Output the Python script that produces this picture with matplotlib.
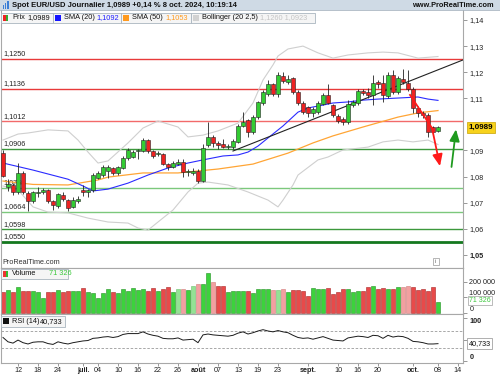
import matplotlib
matplotlib.use("Agg")
import matplotlib.pyplot as plt
from matplotlib.patches import Rectangle

plt.rcParams['font.family'] = ['Liberation Sans', 'DejaVu Sans']

W, H = 500, 375

# bougies journalieres EUR/USD, 7 juin -> 8 oct. 2024
opens = [1.0889, 1.0762, 1.0768, 1.0740, 1.0812, 1.0738, 1.0705, 1.0738, 1.0742, 1.0748,
         1.0708, 1.0686, 1.0730, 1.0712, 1.0682, 1.0708, 1.0748, 1.0740, 1.0748, 1.0796,
         1.0808, 1.0822, 1.0833, 1.0814, 1.0833, 1.0871, 1.0877, 1.0897, 1.0898, 1.0940,
         1.0898, 1.0888, 1.0886, 1.0848, 1.0837, 1.0850, 1.0856, 1.0818, 1.0815, 1.0822,
         1.0783, 1.0921, 1.0952, 1.0929, 1.0925, 1.0915, 1.0913, 1.0933, 1.0994, 1.1017,
         1.0971, 1.1028, 1.1082, 1.1116, 1.1155, 1.1116, 1.1185, 1.1163, 1.1178, 1.1124,
         1.1082, 1.1067, 1.1044, 1.1047, 1.1079, 1.1113, 1.1074, 1.1032, 1.1020, 1.1009,
         1.1076, 1.1082, 1.1128, 1.1124, 1.1113, 1.1163, 1.1159, 1.1109, 1.1189, 1.1124,
         1.1174, 1.1159, 1.1136, 1.1063, 1.1044, 1.1036, 1.0990, 1.0976]
highs = [1.0902, 1.0790, 1.0775, 1.0852, 1.0820, 1.0745, 1.0745, 1.0760, 1.0755, 1.0752,
         1.0712, 1.0738, 1.0740, 1.0716, 1.0720, 1.0725, 1.0768, 1.0752, 1.0815, 1.0822,
         1.0845, 1.0845, 1.0838, 1.0840, 1.0878, 1.0910, 1.0902, 1.0906, 1.0948, 1.0945,
         1.0902, 1.0898, 1.0890, 1.0852, 1.0860, 1.0868, 1.0868, 1.0830, 1.0832, 1.0830,
         1.0925, 1.1009, 1.0960, 1.0935, 1.0945, 1.0925, 1.0945, 1.1000, 1.1047, 1.1022,
         1.1035, 1.1090, 1.1130, 1.1172, 1.1160, 1.1200, 1.1200, 1.1189, 1.1182, 1.1130,
         1.1088, 1.1072, 1.1065, 1.1090, 1.1120, 1.1155, 1.1080, 1.1040, 1.1030, 1.1093,
         1.1093, 1.1135, 1.1135, 1.1140, 1.1189, 1.1170, 1.1189, 1.1200, 1.1208, 1.1185,
         1.1212, 1.1209, 1.1145, 1.1070, 1.1050, 1.1045, 1.0995, 1.0992]
lows = [1.0798, 1.0745, 1.0728, 1.0735, 1.0735, 1.0668, 1.0700, 1.0722, 1.0735, 1.0700,
        1.0672, 1.0680, 1.0708, 1.0668, 1.0678, 1.0700, 1.0725, 1.0722, 1.0740, 1.0790,
        1.0800, 1.0795, 1.0805, 1.0805, 1.0828, 1.0865, 1.0872, 1.0868, 1.0893, 1.0890,
        1.0872, 1.0878, 1.0843, 1.0826, 1.0832, 1.0845, 1.0800, 1.0802, 1.0808, 1.0777,
        1.0778, 1.0915, 1.0912, 1.0905, 1.0908, 1.0905, 1.0907, 1.0928, 1.0990, 1.0950,
        1.0965, 1.1020, 1.1075, 1.1110, 1.1110, 1.1105, 1.1160, 1.1155, 1.1118, 1.1075,
        1.1040, 1.1030, 1.1030, 1.1040, 1.1075, 1.1078, 1.1030, 1.1005, 1.0998, 1.1002,
        1.1068, 1.1075, 1.1112, 1.1100, 1.1075, 1.1140, 1.1085, 1.1100, 1.1118, 1.1118,
        1.1155, 1.1128, 1.1045, 1.1030, 1.1025, 1.0950, 1.0955, 1.0970]
closes = [1.0802, 1.0770, 1.0742, 1.0812, 1.0740, 1.0705, 1.0740, 1.0740, 1.0748, 1.0705,
          1.0692, 1.0733, 1.0716, 1.0680, 1.0710, 1.0716, 1.0741, 1.0748, 1.0808, 1.0812,
          1.0838, 1.0838, 1.0814, 1.0835, 1.0873, 1.0902, 1.0896, 1.0900, 1.0940, 1.0898,
          1.0879, 1.0891, 1.0848, 1.0837, 1.0852, 1.0856, 1.0818, 1.0820, 1.0822, 1.0783,
          1.0910, 1.0952, 1.0929, 1.0922, 1.0913, 1.0917, 1.0937, 1.0994, 1.1010, 1.0971,
          1.1028, 1.1086, 1.1124, 1.1155, 1.1116, 1.1189, 1.1166, 1.1174, 1.1124, 1.1082,
          1.1047, 1.1044, 1.1060, 1.1082, 1.1113, 1.1082, 1.1036, 1.1013, 1.1009, 1.1080,
          1.1086, 1.1128, 1.1120, 1.1113, 1.1159, 1.1155, 1.1113, 1.1189, 1.1124, 1.1178,
          1.1163, 1.1136, 1.1063, 1.1044, 1.1036, 1.0971, 1.0971, 1.0989]
volumes = [137000, 147000, 132000, 164000, 143000, 143000, 143000, 132000, 94000, 132000,
           132000, 147000, 137000, 141000, 141000, 143000, 158000, 137000, 126000, 98000,
           126000, 152000, 132000, 126000, 152000, 141000, 158000, 147000, 152000, 143000,
           158000, 141000, 152000, 169000, 132000, 152000, 152000, 147000, 173000, 184000,
           184000, 258000, 201000, 175000, 175000, 132000, 141000, 141000, 141000, 141000,
           126000, 152000, 152000, 152000, 147000, 147000, 154000, 132000, 147000, 147000,
           141000, 109000, 158000, 152000, 152000, 158000, 122000, 132000, 154000, 152000,
           132000, 143000, 143000, 169000, 175000, 152000, 158000, 152000, 152000, 165000,
           165000, 175000, 165000, 147000, 154000, 141000, 165000, 71326]
vol_light = [35, 36, 38, 39, 42, 54, 55, 56, 80, 81]
rsi = [55, 45, 42, 49, 43, 40, 44, 45, 45, 41,
       39, 45, 42, 40, 43, 45, 47, 48, 53, 54,
       56, 57, 55, 57, 62, 64, 64, 64, 68, 63,
       60, 58, 53, 52, 52, 54, 49, 50, 51, 43,
       61, 63, 61, 60, 59, 58, 60, 65, 68, 63,
       66, 70, 73, 70, 68, 71, 68, 66, 60, 55,
       53, 54, 51, 54, 57, 53, 49, 48, 47, 54,
       56, 58, 57, 55, 60, 59, 53, 60, 56, 58,
       57, 53, 46, 45, 43, 40, 40, 40.733]

# indicateurs
sma20_x = [0, 6, 13, 16, 18, 21, 25, 29, 33, 37, 40, 44, 47, 49, 51, 53, 56, 59, 61, 64, 66, 69, 72, 75, 79, 83, 85, 87]
sma20_y = [1.0852, 1.0825, 1.0790, 1.0764, 1.0745, 1.0752, 1.0775, 1.0806, 1.0833, 1.0852, 1.0864, 1.0879, 1.0883,
           1.0894, 1.0917, 1.0948, 1.0994, 1.1047, 1.1063, 1.1074, 1.1082, 1.1086, 1.1093, 1.1097, 1.1101, 1.1105,
           1.1097, 1.1092]
sma50_x = [0, 6, 13, 19, 21, 28, 35, 43, 50, 57, 62, 66, 72, 79, 83, 87]
sma50_y = [1.0783, 1.0770, 1.0768, 1.0787, 1.0798, 1.0814, 1.0814, 1.0829, 1.0848, 1.0890, 1.0929, 1.0956,
           1.0990, 1.1028, 1.1044, 1.1053]
bb_up_x = [0, 3, 5, 9, 13, 15, 17, 19, 21, 25, 28, 31, 35, 37, 40, 43, 47, 50, 52, 54, 55, 57, 60, 63, 66,
           69, 73, 76, 79, 83, 87]
bb_up_y = [1.0940, 1.0963, 1.0967, 1.0979, 1.0975, 1.0940, 1.0894, 1.0852, 1.0860, 1.0929, 1.0986, 1.1013,
           1.0990, 1.0952, 1.0959, 1.0975, 1.1005, 1.1082, 1.1170, 1.1228, 1.1262, 1.1289, 1.1300, 1.1274,
           1.1254, 1.1266, 1.1274, 1.1277, 1.1274, 1.1254, 1.1260]
bb_dn_x = [0, 3, 6, 9, 13, 17, 21, 25, 27, 29, 31, 34, 37, 39, 41, 45, 49, 53, 55, 56, 58, 59, 63, 65, 68,
           73, 76, 79, 82, 85, 87]
bb_dn_y = [1.0764, 1.0749, 1.0684, 1.0664, 1.0661, 1.0641, 1.0626, 1.0622, 1.0603, 1.0595, 1.0626, 1.0672,
           1.0741, 1.0775, 1.0779, 1.0768, 1.0741, 1.0710, 1.0684, 1.0710, 1.0768, 1.0806, 1.0864, 1.0875,
           1.0902, 1.0913, 1.0933, 1.0940, 1.0933, 1.0940, 1.0923]

# niveaux horizontaux traces
levels = [1.1250, 1.1136, 1.1012, 1.0906, 1.0758, 1.0664, 1.0598, 1.0550]
level_labels = ['1,1250', '1,1136', '1,1012', '1,0906', '1,0758', '1,0664', '1,0598', '1,0550']
level_colors = ['#e83a3a', '#e83a3a', '#f26a6a', '#3c983c', '#7cc87c', '#7cc87c', '#3c983c', '#14781e']
level_widths = [1, 1, 1, 1, 1, 1, 1, 2]

trend_x = [46, 92]
trend_y = [1.0898, 1.1247]
red_arrow_x = [81.4, 85.8, 87.4]
red_arrow_y = [1.1113, 1.0986, 1.0840]
green_arrow_x = [89.7, 90.6]
green_arrow_y = [1.0837, 1.0981]

tick_pos = [3, 7, 11, 16, 19, 23, 27, 31, 35, 39, 43, 47, 51, 55, 61, 67, 71, 75, 82, 87, 91]
tick_lab = ['12', '18', '24', 'juil.', '04', '10', '16', '22', '26', 'août', '07', '13', '19', '23',
            'sept.', '10', '16', '20', 'oct.', '08', '14']
months = ['juil.', 'août', 'sept.', 'oct.']

price_ticks = [1.05, 1.06, 1.07, 1.08, 1.09, 1.11, 1.12, 1.13, 1.14]


def box(x0, y0, x1, y1):
    return [x0 / W, 1 - y1 / H, (x1 - x0) / W, (y1 - y0) / H]


fig = plt.figure(figsize=(5, 3.75), dpi=100)
fig.patch.set_facecolor('white')

ax = fig.add_axes(box(1, 10, 463, 268))
axv = fig.add_axes(box(1, 268, 463, 314))
axr = fig.add_axes(box(1, 314, 463, 363))

xs = list(range(len(closes)))
up = [c >= o for o, c in zip(opens, closes)]

# --- panneau prix ---
for lev, col, lw in zip(levels, level_colors, level_widths):
    ax.axhline(lev, color=col, lw=lw, zorder=1)
for lev, lab in zip(levels, level_labels):
    ax.annotate(lab, xy=(0, lev), xycoords=ax.get_yaxis_transform(), xytext=(1.5, 1.2),
                textcoords='offset points', fontsize=5.2, color='#222222', va='bottom', zorder=2)

ax.plot(bb_up_x, bb_up_y, color='#cfcfcf', lw=0.8, zorder=2)
ax.plot(bb_dn_x, bb_dn_y, color='#cfcfcf', lw=0.8, zorder=2)
ax.plot(sma50_x, sma50_y, color='#ffa535', lw=0.9, zorder=2)
ax.plot(sma20_x, sma20_y, color='#2b2bff', lw=0.8, zorder=2)
ax.plot(trend_x, trend_y, color='#222222', lw=0.8, zorder=2)

ax.vlines(xs, lows, highs, color='#222222', lw=0.6, zorder=3)
bottoms = [min(o, c) for o, c in zip(opens, closes)]
heights = [max(abs(c - o), 0.00012) for o, c in zip(opens, closes)]
cols = ['#33cc33' if u else '#ee2222' for u in up]
ax.bar(xs, heights, 0.62, bottom=bottoms, color=cols, edgecolor='#222222', lw=0.4, zorder=4)

ax.plot(red_arrow_x[:2], red_arrow_y[:2], color='#ff1a1a', lw=1.3, zorder=5)
ax.annotate('', xy=(red_arrow_x[2], red_arrow_y[2]), xytext=(red_arrow_x[1], red_arrow_y[1]),
            arrowprops=dict(arrowstyle='-|>,head_length=0.7,head_width=0.3', color='#ff1a1a', lw=1.3,
                            shrinkA=0, shrinkB=0), zorder=5)
ax.annotate('', xy=(green_arrow_x[1], green_arrow_y[1]), xytext=(green_arrow_x[0], green_arrow_y[0]),
            arrowprops=dict(arrowstyle='-|>,head_length=0.7,head_width=0.3', color='#1f9a1f', lw=1.3,
                            shrinkA=0, shrinkB=0), zorder=5)

ax.set_xlim(-0.4, 92)
ax.set_ylim(1.04498, 1.14383)
ax.yaxis.tick_right()
ax.set_yticks(price_ticks)
ax.set_yticklabels([('%.2f' % t).replace('.', ',') for t in price_ticks])
ax.get_yticklabels()[0].set_fontweight('bold')
ax.set_xticks([])

# --- volume ---
vcols, vedges = [], []
for i, u in enumerate(up):
    if i in vol_light:
        vcols.append('#94e294' if u else '#f2a0a0')
        vedges.append('#6cbf6c' if u else '#d27a7a')
    else:
        vcols.append('#3cd23c' if u else '#e84a4a')
        vedges.append('#229022' if u else '#a82424')
axv.bar(xs, volumes, 0.7, color=vcols, edgecolor=vedges, lw=0.4)
axv.set_xlim(-0.4, 92)
axv.set_ylim(-6400, 288500)
axv.yaxis.tick_right()
axv.set_yticks([0, 100000, 200000])
axv.set_yticklabels(['0', '100 000', '200 000'])
axv.get_yticklabels()[0].set_va('bottom')
axv.get_yticklabels()[1].set_va('bottom')
axv.set_xticks([])

# --- RSI ---
axr.axhline(70, color='#9a9a9a', lw=0.6, ls=(0, (3, 2)))
axr.axhline(30, color='#9a9a9a', lw=0.6, ls=(0, (3, 2)))
axr.plot(xs, rsi, color='#1a1a1a', lw=0.7)
axr.set_xlim(-0.4, 92)
axr.set_ylim(-3.9, 109.2)
axr.yaxis.tick_right()
axr.set_yticks([0, 50, 100])
# le 50 est masque par l'etiquette de la valeur courante
axr.set_yticklabels(['0', '', '100'], fontweight='bold')
axr.get_yticklabels()[0].set_va('bottom')
axr.get_yticklabels()[2].set_va('top')
axr.set_xticks(tick_pos)
axr.set_xticklabels(tick_lab)
for t in axr.get_xticklabels():
    if t.get_text() in months:
        t.set_fontweight('bold')

for a in (ax, axv, axr):
    for s in a.spines.values():
        s.set_color('#a8a8a8')
        s.set_linewidth(0.8)
    a.tick_params(axis='both', length=3, width=0.6, color='#888888', labelsize=5.2, pad=1.5,
                  labelcolor='#222222')
axr.tick_params(axis='x', length=2.5, pad=0.6)
ax.spines['top'].set_visible(False)

# etiquettes de derniere valeur
ax.text(1.012, closes[-1], '1,0989', transform=ax.get_yaxis_transform(), fontsize=5.8,
        fontweight='bold', va='center', ha='left', zorder=10, clip_on=False,
        bbox=dict(boxstyle='square,pad=0.25', fc='#f7d21c', ec='#c9a200', lw=0.5))
axv.annotate('71 326', xy=(1, volumes[-1]), xycoords=axv.get_yaxis_transform(), xytext=(4.2, 1.2),
             textcoords='offset points', fontsize=5.0, color='#3cc83c', va='center', ha='left',
             zorder=10, annotation_clip=False,
             bbox=dict(boxstyle='square,pad=0.15', fc='white', ec='#a0a0a0', lw=0.5))
axr.text(1.012, rsi[-1], '40,733', transform=axr.get_yaxis_transform(), fontsize=5.2,
         color='#111111', va='center', ha='left', zorder=10, clip_on=False,
         bbox=dict(boxstyle='square,pad=0.25', fc='white', ec='#909090', lw=0.5))

# --- habillage (en-tete, legendes) ---
ov = fig.add_axes([0, 0, 1, 1])
ov.set_xlim(0, W)
ov.set_ylim(H, 0)
ov.axis('off')
ov.set_zorder(20)

ov.add_patch(Rectangle((0, 0), W, 10, fc='#cfdae5', ec='none'))
ov.plot([0, W], [10, 10], color='#a9b6c2', lw=0.6)
for bx, bh in [(2.5, 4), (4.8, 6), (7.1, 8)]:
    ov.add_patch(Rectangle((bx, 9 - bh), 1.4, bh, fc='#3d7fd6', ec='none'))
ov.text(12, 5.3, 'Spot EUR/USD Journalier 1,0989 +0,14 % 8 oct. 2024, 10:19:14', fontsize=5.5,
        fontweight='bold', va='center', ha='left', color='#111111')
ov.text(494, 5.3, 'www.ProRealTime.com', fontsize=5.3, fontweight='bold', va='center', ha='right',
        color='#111111')


def legend_box(x0, x1, y0, y1):
    ov.add_patch(Rectangle((x0, y0), x1 - x0, y1 - y0, fc='#f5f5f5', ec='#a9b5bf', lw=0.6))


ly0, ly1 = 12.5, 23
legend_box(1, 53, ly0, ly1)
legend_box(53, 121, ly0, ly1)
legend_box(121, 191, ly0, ly1)
legend_box(191, 315, ly0, ly1)
lyc = (ly0 + ly1) / 2
ov.add_patch(Rectangle((3, lyc - 3), 2.5, 6, fc='#ee2222', ec='none'))
ov.add_patch(Rectangle((5.5, lyc - 3), 2.5, 6, fc='#33aa33', ec='none'))
ov.text(12, lyc, 'Prix', fontsize=5.3, va='center', color='#111111')
ov.text(27, lyc, '1,0989', fontsize=5.3, va='center', color='#111111')
ov.add_patch(Rectangle((55, lyc - 3), 6, 6, fc='#1515ff', ec='none'))
ov.text(64, lyc, 'SMA (20)', fontsize=5.3, va='center', color='#111111')
ov.text(96.5, lyc, '1,1092', fontsize=5.3, va='center', color='#2020ff')
ov.add_patch(Rectangle((123, lyc - 3), 6, 6, fc='#ff9a1f', ec='none'))
ov.text(132, lyc, 'SMA (50)', fontsize=5.3, va='center', color='#111111')
ov.text(165.5, lyc, '1,1053', fontsize=5.3, va='center', color='#ff9a1f')
ov.add_patch(Rectangle((193, lyc - 3), 6, 6, fc='#d2d2d2', ec='none'))
ov.text(202, lyc, 'Bollinger (20 2,5)', fontsize=5.3, va='center', color='#111111')
ov.text(260, lyc, '1,1260 1,0923', fontsize=5.3, va='center', color='#c4c4c4')

ov.text(2, 262.5, 'ProRealTime.com', fontsize=5.2, va='center', color='#333333')
ov.add_patch(Rectangle((432.5, 258), 6.5, 6.5, fc='white', ec='#999999', lw=0.5))
ov.text(435.75, 261.3, 'i', fontsize=4.2, va='center', ha='center', color='#666666')

legend_box(1, 68, 268.5, 279)
ov.add_patch(Rectangle((3, 270.8), 2.5, 6, fc='#ee3333', ec='none'))
ov.add_patch(Rectangle((5.5, 270.8), 2.5, 6, fc='#33bb33', ec='none'))
ov.text(12, 273.8, 'Volume', fontsize=5.3, va='center', color='#111111')
ov.text(49, 273.8, '71 326', fontsize=5.3, va='center', color='#3cc83c')

legend_box(1, 65, 316, 326.5)
ov.add_patch(Rectangle((3, 318.3), 6, 6, fc='#111111', ec='none'))
ov.text(12, 321.3, 'RSI (14)', fontsize=5.3, va='center', color='#111111')
ov.text(40, 321.3, '40,733', fontsize=5.3, va='center', color='#111111')

fig.savefig('out.png', dpi=100)
